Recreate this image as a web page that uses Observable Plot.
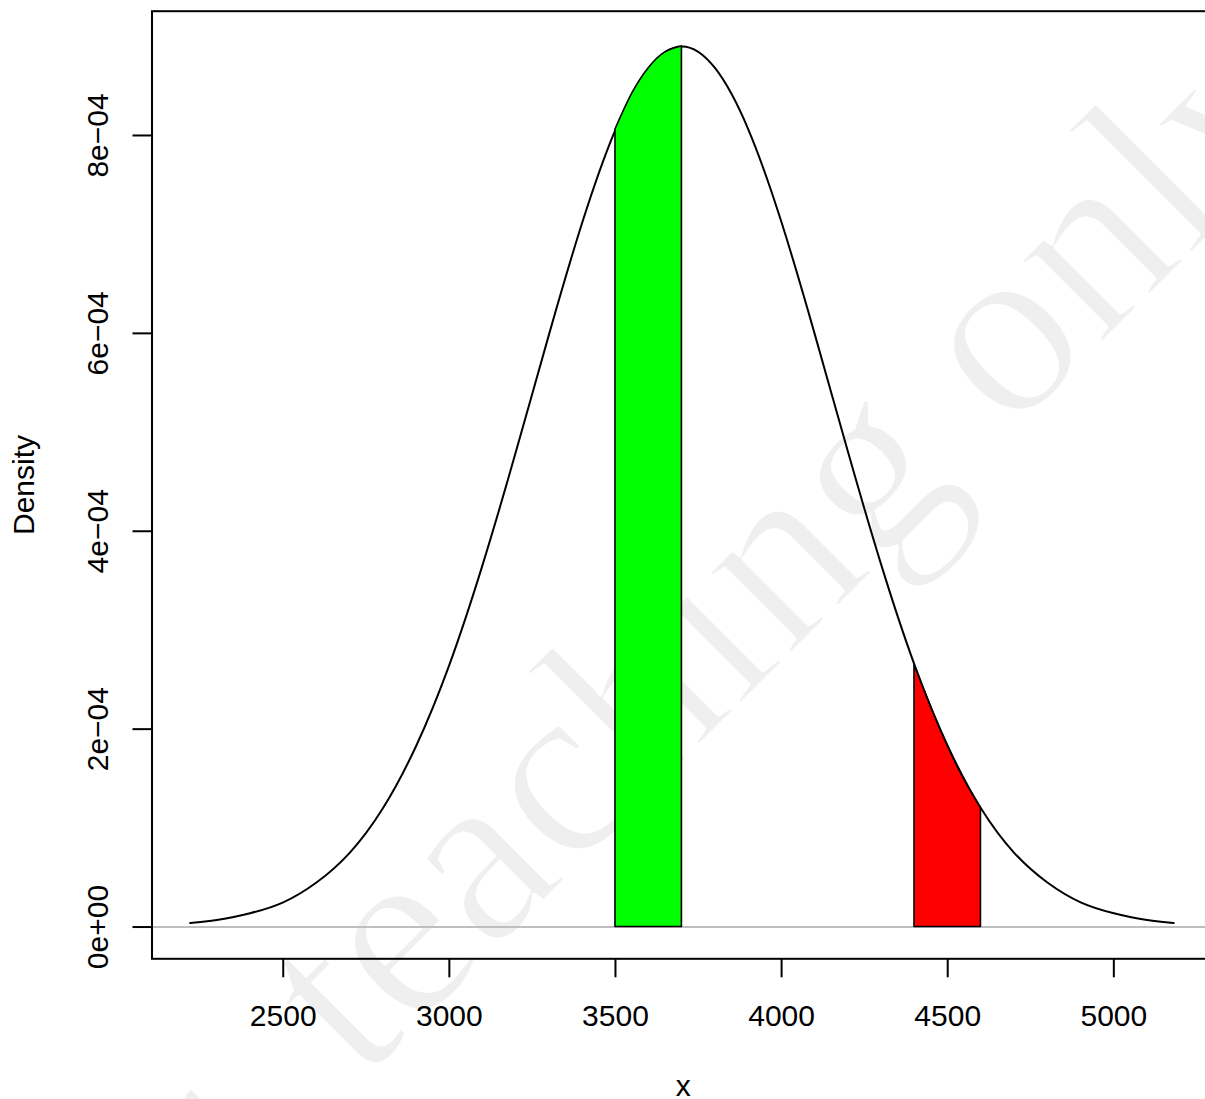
<!DOCTYPE html>
<html>
<head>
<meta charset="utf-8">
<script src="https://cdn.jsdelivr.net/npm/d3@7"></script>
<script src="https://cdn.jsdelivr.net/npm/@observablehq/plot@0.6"></script>
<style>
  html, body { margin: 0; padding: 0; background: white; }
  #chart svg { display: block; }
</style>
</head>
<body>
<div id="chart"></div>
<script>
// Density curve
const curveX = [2220, 2300, 2400, 2500, 2600, 2700, 2800, 2900, 3000, 3100, 3200, 3300, 3400, 3500, 3600, 3700,
                3800, 3900, 4000, 4100, 4200, 4300, 4400, 4500, 4600, 4700, 4800, 4900, 5000, 5100, 5180];
const curveY = [4e-6, 7e-6, 1.4e-5, 2.5e-5, 4.5e-5, 7.5e-5, 1.20e-4, 1.83e-4, 2.65e-4, 3.66e-4, 4.80e-4, 5.99e-4, 7.12e-4, 8.06e-4, 8.68e-4, 8.90e-4,
                8.68e-4, 8.06e-4, 7.12e-4, 5.99e-4, 4.80e-4, 3.66e-4, 2.65e-4, 1.83e-4, 1.20e-4, 7.5e-5, 4.5e-5, 2.5e-5, 1.4e-5, 7e-6, 4e-6];

// Shaded regions
const greenX = [3500, 3550, 3600, 3650, 3700];
const greenY = [8.06e-4, 8.42e-4, 8.68e-4, 8.84e-4, 8.90e-4];
const redX = [4400, 4450, 4500, 4550, 4600];
const redY = [2.65e-4, 2.22e-4, 1.83e-4, 1.49e-4, 1.20e-4];

// Axes
const xTicks = [2500, 3000, 3500, 4000, 4500, 5000];
const yTicks = [0, 2e-4, 4e-4, 6e-4, 8e-4];
const yTickLabels = ["0e+00", "2e\u221204", "4e\u221204", "6e\u221204", "8e\u221204"];
const xLabel = "x";
const yLabel = "Density";
const watermark = "for teaching only";

const curve = curveX.map((x, i) => ({x, y: curveY[i]}));
const green = greenX.map((x, i) => ({x, y: greenY[i]}));
const red = redX.map((x, i) => ({x, y: redY[i]}));

const chart = Plot.plot({
  width: 1205,
  height: 1099,
  marginLeft: 151.5,
  marginRight: -9,
  marginTop: 10.7,
  marginBottom: 140.7,
  x: {domain: [2105, 5303]},
  y: {domain: [-3.21e-5, 9.256e-4]},
  style: {fontFamily: "'Liberation Sans', Arial, sans-serif", fontSize: "30px", color: "black", background: "white"},
  marks: [
    Plot.ruleY([0], {stroke: "#bebebe", strokeWidth: 2}),
    Plot.line(curve, {x: "x", y: "y", stroke: "black", strokeWidth: 2, curve: "natural"}),
    Plot.areaY(green, {x: "x", y: "y", fill: "#00ff00", stroke: "black", strokeWidth: 1.6, curve: "natural"}),
    Plot.areaY(red, {x: "x", y: "y", fill: "#ff0000", stroke: "black", strokeWidth: 1.6, curve: "natural"}),
    Plot.frame({stroke: "black", strokeWidth: 2}),
    Plot.axisX({ticks: xTicks, tickSize: 19, tickPadding: 27, strokeWidth: 2, label: null, tickFormat: d => String(d)}),
    Plot.axisY({ticks: yTicks, tickSize: 19, strokeWidth: 2, label: null, tickFormat: () => ""}),
    Plot.text(yTicks, {y: d => d, text: (d, i) => yTickLabels[i], frameAnchor: "left", dx: -44, rotate: -90, lineAnchor: "bottom", textAnchor: "middle", fontSize: 30}),
    Plot.text([yLabel], {frameAnchor: "left", dx: -118.5, rotate: -90, lineAnchor: "bottom", textAnchor: "middle", fontSize: 30}),
    Plot.text([xLabel], {frameAnchor: "bottom", dx: 0, dy: 137, lineAnchor: "bottom", textAnchor: "middle", fontSize: 30})
  ]
});

document.getElementById("chart").appendChild(chart);

// Watermark behind everything, rotated 45 degrees (white outline thins the strokes)
const svg = d3.select(chart);
const cut = watermark.indexOf(" ");
const wmGroup = svg.insert("g", ":first-child")
  .attr("transform", "translate(361,1084) rotate(-45)")
  .attr("font-family", "'Liberation Serif', 'Times New Roman', serif")
  .attr("font-size", 252)
  .attr("fill", "#efefef")
  .attr("stroke", "white")
  .attr("stroke-width", 4)
  .attr("stroke-linejoin", "round");
wmGroup.append("text").attr("x", -120).attr("y", 0).attr("text-anchor", "end").text(watermark.slice(0, cut));
wmGroup.append("text").attr("x", 0).attr("y", 0).attr("text-anchor", "start").text(watermark.slice(cut + 1));
</script>
</body>
</html>
